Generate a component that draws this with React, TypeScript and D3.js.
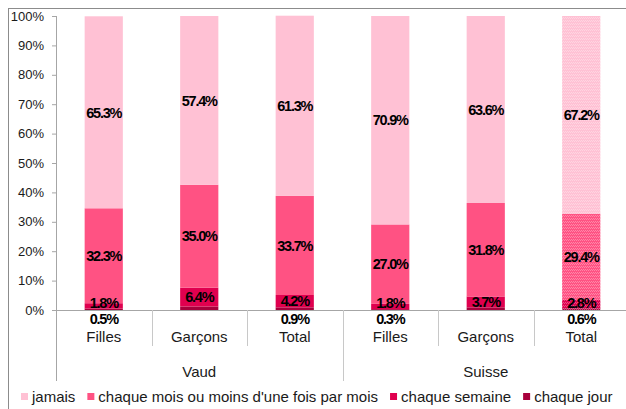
import React, { useRef, useEffect } from 'react';
import * as d3 from 'd3';

const categories = ['Filles', 'Garçons', 'Total', 'Filles', 'Garçons', 'Total'];
const groups = ['Vaud', 'Suisse'];
const seriesNames = ['jamais', "chaque mois ou moins d'une fois par mois", 'chaque semaine', 'chaque jour'];
const seriesColors = ['#ffc1d4', '#ff5283', '#e0004f', '#a8003c'];

const jour = [0.5, 1.2, 0.9, 0.3, 0.9, 0.6];
const semaine = [1.8, 6.4, 4.2, 1.8, 3.7, 2.8];
const mois = [32.3, 35.0, 33.7, 27.0, 31.8, 29.4];
const jamais = [65.3, 57.4, 61.3, 70.9, 63.6, 67.2];
// jour values that were labelled in the original chart
const jourLabelled = [true, false, true, true, false, true];

const yTicks = [0, 10, 20, 30, 40, 50, 60, 70, 80, 90, 100];

const App = () => {
    const svgRef = useRef<SVGSVGElement>(null);

    useEffect(() => {
        const width = 626;
        const height = 409;
        const marginLeft = 56;
        const plotRight = 629;
        const marginTop = 16;
        const axisY = 310;
        const font = '"Liberation Sans", Arial, sans-serif';
        const axisColor = '#a6a6a6';
        const textColor = '#1a1a1a';

        const svg = d3.select(svgRef.current)
            .attr('width', width)
            .attr('height', height)
            .style('position', 'absolute')
            .style('left', 0)
            .style('top', 0)
            .style('font-family', font);

        svg.selectAll('*').remove();

        // dotted patterns for the Suisse total bar
        const defs = svg.append('defs');
        seriesColors.forEach((c, i) => {
            const p = defs.append('pattern')
                .attr('id', `pat${i}`)
                .attr('patternUnits', 'userSpaceOnUse')
                .attr('width', 4)
                .attr('height', 3);
            p.append('rect').attr('width', 4).attr('height', 3).attr('fill', c);
            [[0, 0], [2, 0], [1, 2], [3, 2]].forEach(([dx, dy]) => {
                p.append('rect').attr('x', dx).attr('y', dy).attr('width', 1).attr('height', 1)
                    .attr('fill', '#fff').attr('opacity', 0.3);
            });
        });

        // outer frame
        svg.append('rect')
            .attr('x', 8.5).attr('y', 8.5)
            .attr('width', 700).attr('height', 500)
            .attr('fill', 'none')
            .attr('stroke', '#8c8c8c');

        const x = d3.scaleBand<number>()
            .domain(d3.range(categories.length))
            .range([marginLeft, plotRight])
            .paddingInner(0.6)
            .paddingOuter(0.3);

        const y = d3.scaleLinear()
            .domain([0, 100])
            .range([axisY, marginTop]);

        const stackData = categories.map((c, i) => ({
            i, jour: jour[i], semaine: semaine[i], mois: mois[i], jamais: jamais[i]
        }));
        const keys = ['jamais', 'mois', 'semaine', 'jour'];
        const stack = d3.stack<any>().keys(['jour', 'semaine', 'mois', 'jamais'])(stackData);

        // y axis
        const yAxis = svg.append('g')
            .attr('transform', `translate(${marginLeft},0)`)
            .call(d3.axisLeft(y).tickValues(yTicks).tickSize(4).tickSizeOuter(0).tickFormat(d => `${d}%`));
        yAxis.select('.domain').remove();
        yAxis.selectAll('.tick line').attr('stroke', axisColor);
        yAxis.selectAll('.tick text')
            .attr('x', -12)
            .attr('font-size', 13)
            .attr('font-family', font)
            .attr('fill', textColor);
        svg.append('line')
            .attr('x1', marginLeft + 0.5).attr('x2', marginLeft + 0.5)
            .attr('y1', marginTop).attr('y2', 381)
            .attr('stroke', axisColor);

        // bars
        stack.forEach(layer => {
            const si = keys.indexOf(layer.key);
            svg.append('g')
                .selectAll('rect')
                .data(layer)
                .join('rect')
                .attr('x', d => x(d.data.i))
                .attr('width', x.bandwidth())
                .attr('y', d => y(d[1]))
                .attr('height', d => y(d[0]) - y(d[1]))
                .attr('fill', d => d.data.i === 5 ? `url(#pat${si})` : seriesColors[si]);
        });

        // x axis
        svg.append('line')
            .attr('x1', marginLeft).attr('x2', width)
            .attr('y1', axisY + 0.5).attr('y2', axisY + 0.5)
            .attr('stroke', axisColor);

        const step = x.step();
        d3.range(1, categories.length + 1).forEach(k => {
            const xs = Math.round(marginLeft + step * k) + 0.5;
            svg.append('line')
                .attr('x1', xs).attr('x2', xs)
                .attr('y1', axisY).attr('y2', k % 3 === 0 ? 381 : 346)
                .attr('stroke', '#c8c8c8');
        });

        svg.append('g')
            .selectAll('text')
            .data(categories)
            .join('text')
            .attr('x', (d, i) => x(i)! + x.bandwidth() / 2)
            .attr('y', 342)
            .attr('text-anchor', 'middle')
            .attr('font-size', 15)
            .attr('fill', textColor)
            .text(d => d);

        svg.append('g')
            .selectAll('text')
            .data(groups)
            .join('text')
            .attr('x', (d, g) => marginLeft + step * (g * 3 + 1.5))
            .attr('y', 377)
            .attr('text-anchor', 'middle')
            .attr('font-size', 15)
            .attr('fill', textColor)
            .text(d => d);

        // value labels
        const labels: { x: number; y: number; t: string }[] = [];
        categories.forEach((c, i) => {
            const cx = x(i)! + x.bandwidth() / 2;
            const s = stack.map(l => l[i]);
            if (jourLabelled[i]) labels.push({ x: cx, y: y(0) + 9, t: `${jour[i].toFixed(1)}%` });
            labels.push({ x: cx, y: Math.min(y((s[1][0] + s[1][1]) / 2), y(0) - 7), t: `${semaine[i].toFixed(1)}%` });
            labels.push({ x: cx, y: y((s[2][0] + s[2][1]) / 2), t: `${mois[i].toFixed(1)}%` });
            labels.push({ x: cx, y: y((s[3][0] + s[3][1]) / 2), t: `${jamais[i].toFixed(1)}%` });
        });
        svg.append('g')
            .selectAll('text')
            .data(labels)
            .join('text')
            .attr('x', d => d.x)
            .attr('y', d => d.y)
            .attr('dy', '0.36em')
            .attr('text-anchor', 'middle')
            .attr('font-size', 14.5)
            .attr('font-weight', 'bold')
            .attr('letter-spacing', -1.2)
            .attr('fill', '#000')
            .text(d => d.t);

        // legend
        const legend = svg.append('g').attr('transform', 'translate(21,397)');
        let lx = 0;
        seriesNames.forEach((name, i) => {
            legend.append('rect')
                .attr('x', lx).attr('y', -4)
                .attr('width', 7).attr('height', 7)
                .attr('fill', seriesColors[i]);
            const t = legend.append('text')
                .attr('x', lx + 11)
                .attr('y', 0)
                .attr('dy', '0.33em')
                .attr('font-size', 15)
                .attr('fill', textColor)
                .text(name);
            const w = (t.node() as SVGTextElement).getComputedTextLength();
            lx += 11 + w + 12;
        });
    }, []);

    return (
        <svg ref={svgRef}></svg>
    );
};

export default App;
